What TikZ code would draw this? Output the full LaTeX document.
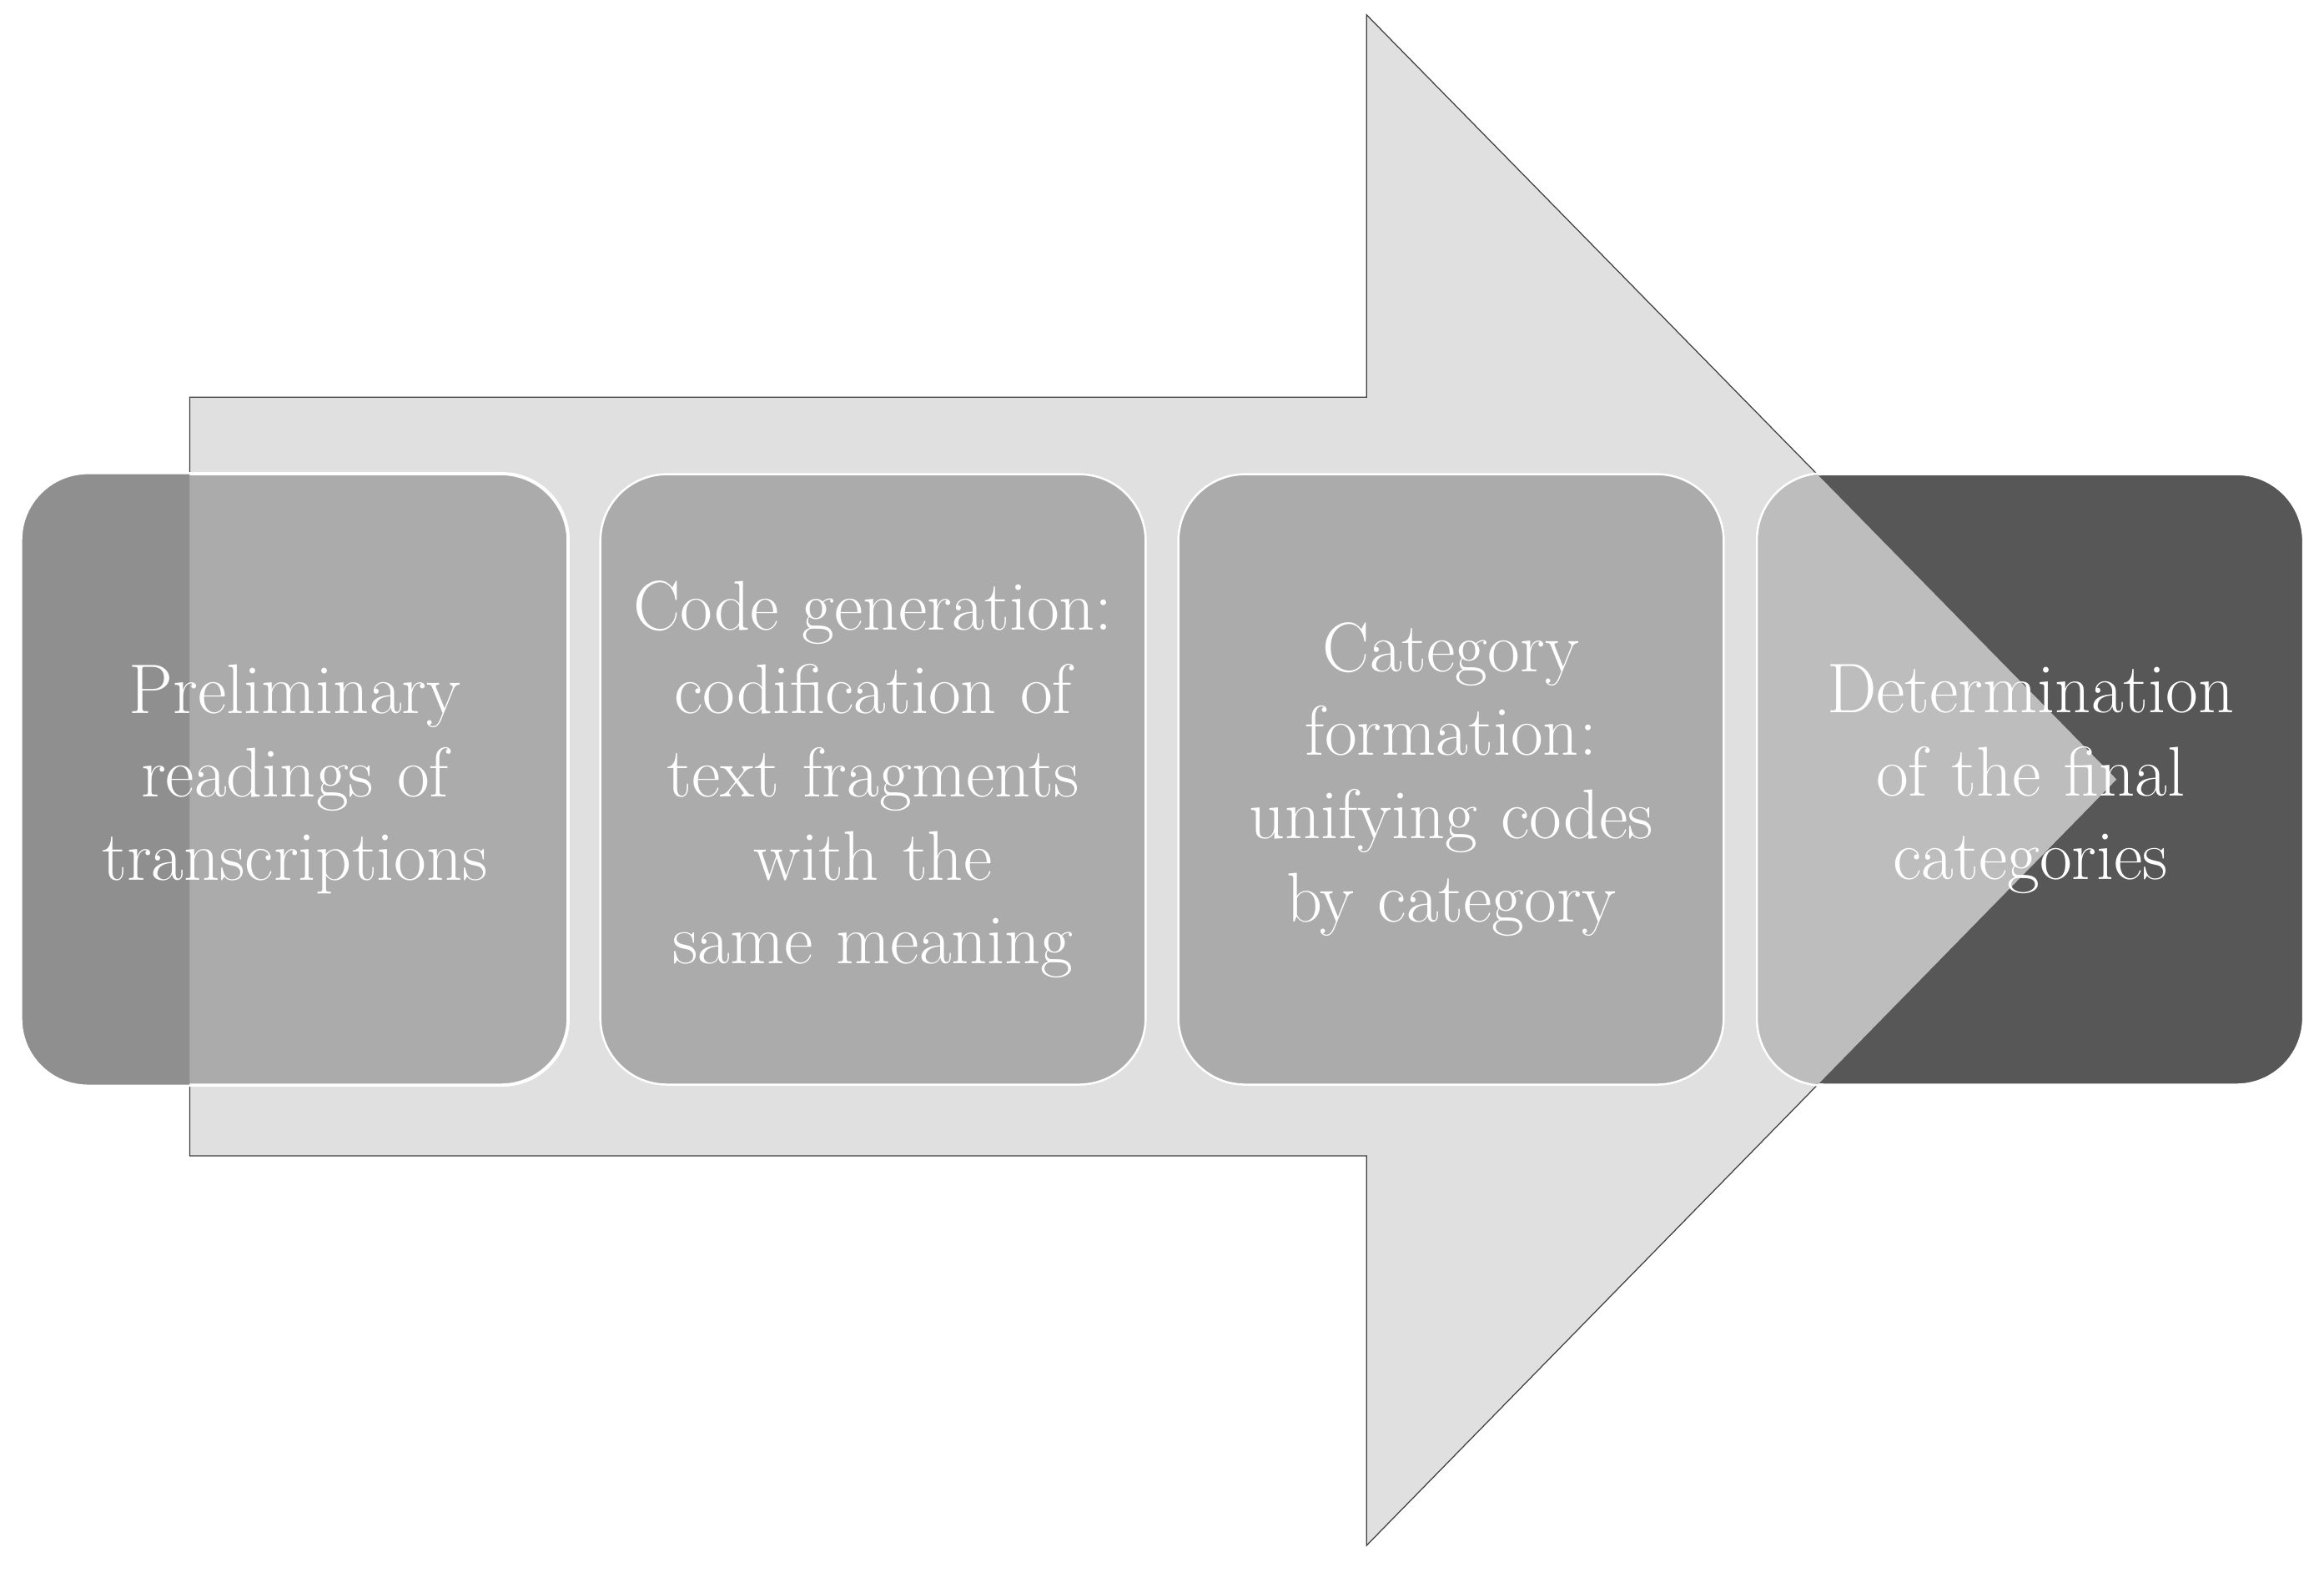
\documentclass[tikz,border=0pt]{standalone}
\usepackage{tikz}
\begin{document}
\begin{tikzpicture}
	[x=0.02cm,y=-0.02cm,
	arrowfill/.style={fill=black!12,draw=black!75,thin},
	box/.style={rounded corners=0.9cm,draw=white,thick,minimum width=7.36cm,minimum height=8.24cm,
		text width=6.9cm,align=center,text=white,font=\fontsize{27}{32}\selectfont},
	boxfill/.style={fill=black!33},
	headfill/.style={fill=black!26}]
	\useasboundingbox (0,0) rectangle (1568,1064);
	% big arrow
	\draw[arrowfill] (128,268) -- (922,268) -- (922,10) -- (1428,526) -- (922,1043) -- (922,780) -- (128,780) -- cycle;
	% steps
	\node[box,boxfill] (prelim) at (199,526) {};
	\node[box,boxfill] (code) at (589,526) {};
	\node[box,boxfill] (categ) at (979,526) {};
	\node[box,fill=black!66] (final) at (1370,526) {};
	% darker part of first box outside the arrow
	\begin{scope}
		\clip (prelim.south west) rectangle (128,0);
		\fill[black!44,rounded corners=0.9cm] (prelim.north west) rectangle (prelim.south east);
	\end{scope}
	% arrow head over last box
	\begin{scope}
		\clip[rounded corners=0.9cm] (final.north west) rectangle (final.south east);
		\fill[headfill] (922,10) -- (1428,526) -- (922,1043) -- cycle;
	\end{scope}
	\draw[white,thick,rounded corners=0.9cm] (prelim.north west) rectangle (prelim.south east);
	\draw[white,thick,rounded corners=0.9cm] (final.north west) rectangle (final.south east);
	% labels
	\node[box,draw=none] at (prelim) {Preliminary readings of transcriptions};
	\node[box,draw=none] at (code) {Code generation: codification of text fragments with the same meaning};
	\node[box,draw=none] at (categ) {Category formation: unifying codes by category};
	\node[box,draw=none] at (final) {Determination of the final categories};
\end{tikzpicture}
\end{document}
